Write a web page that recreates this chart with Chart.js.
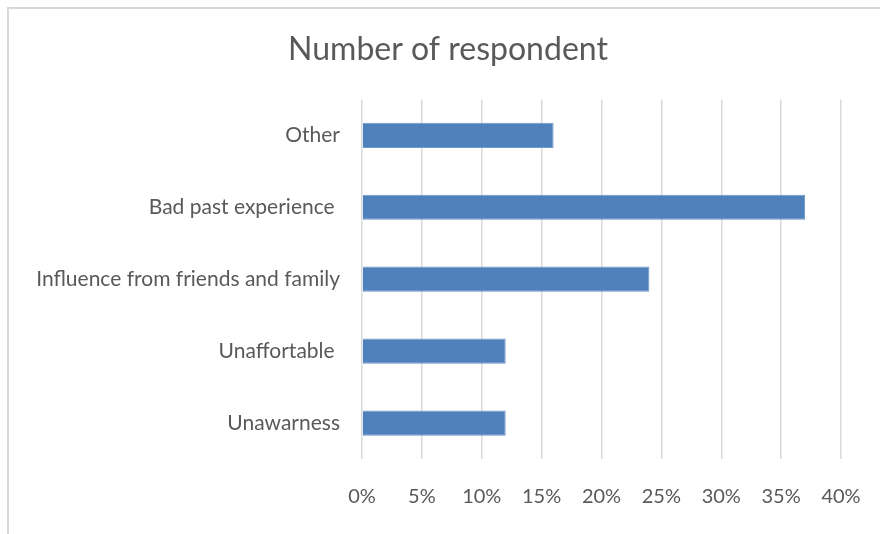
<!DOCTYPE html>
<html>
<head>
<meta charset="utf-8">
<script src="https://cdn.jsdelivr.net/npm/chart.js@4"></script>
<style>
  body { margin: 0; background: #fff; }
  #wrap { position: relative; width: 880px; height: 534px; overflow: hidden; }
  #frame { position: absolute; left: 7px; top: 7px; width: 900px; height: 560px; border: 2px solid #d9d9d9; box-sizing: border-box; }
  canvas { position: absolute; left: 0; top: 0; }
</style>
</head>
<body>
<div id="wrap">
  <div id="frame"></div>
  <canvas id="chart" width="880" height="534"></canvas>
</div>
<script>
// Data
const categories = ['Other', 'Bad past experience ', 'Influence from friends and family', 'Unaffortable ', 'Unawarness'];
const respondents = [16, 37, 24, 12, 12];
const tickValues = [0, 5, 10, 15, 20, 25, 30, 35, 40];

const fontFamily = 'Lato, "Open Sans", sans-serif';

new Chart(document.getElementById('chart'), {
    type: 'bar',
    data: {
        labels: categories,
        datasets: [{
            label: 'Number of respondent',
            data: respondents,
            backgroundColor: '#4F81BD',
            borderColor: '#6f97c9',
            borderWidth: 1,
            barPercentage: 0.35,
            categoryPercentage: 1
        }]
    },
    options: {
        indexAxis: 'y',
        responsive: false,
        animation: false,
        layout: { padding: { top: 0, right: 0, bottom: 0, left: 16 } },
        plugins: {
            legend: { display: false },
            tooltip: { enabled: false },
            title: {
                display: true,
                text: 'Number of respondent',
                color: '#595959',
                font: { family: fontFamily, size: 32, weight: 'normal' },
                padding: { top: 30, bottom: 31 }
            }
        },
        scales: {
            x: {
                min: 0,
                max: 40,
                afterBuildTicks: scale => { scale.ticks = tickValues.map(v => ({ value: v })); },
                afterFit: scale => {
                    scale.height = 75;
                    scale.paddingLeft = 0;
                    scale.paddingRight = 39;
                },
                grid: { color: '#d9d9d9', lineWidth: 1.5, drawTicks: false },
                border: { display: false },
                ticks: {
                    padding: 26,
                    color: '#595959',
                    font: { family: fontFamily, size: 20 },
                    callback: v => v + '%'
                }
            },
            y: {
                afterFit: scale => { scale.width = 346; },
                grid: { display: false, drawTicks: false },
                border: { display: false },
                ticks: {
                    padding: 22,
                    color: '#595959',
                    font: { family: fontFamily, size: 21 }
                }
            }
        }
    }
});
</script>
</body>
</html>
